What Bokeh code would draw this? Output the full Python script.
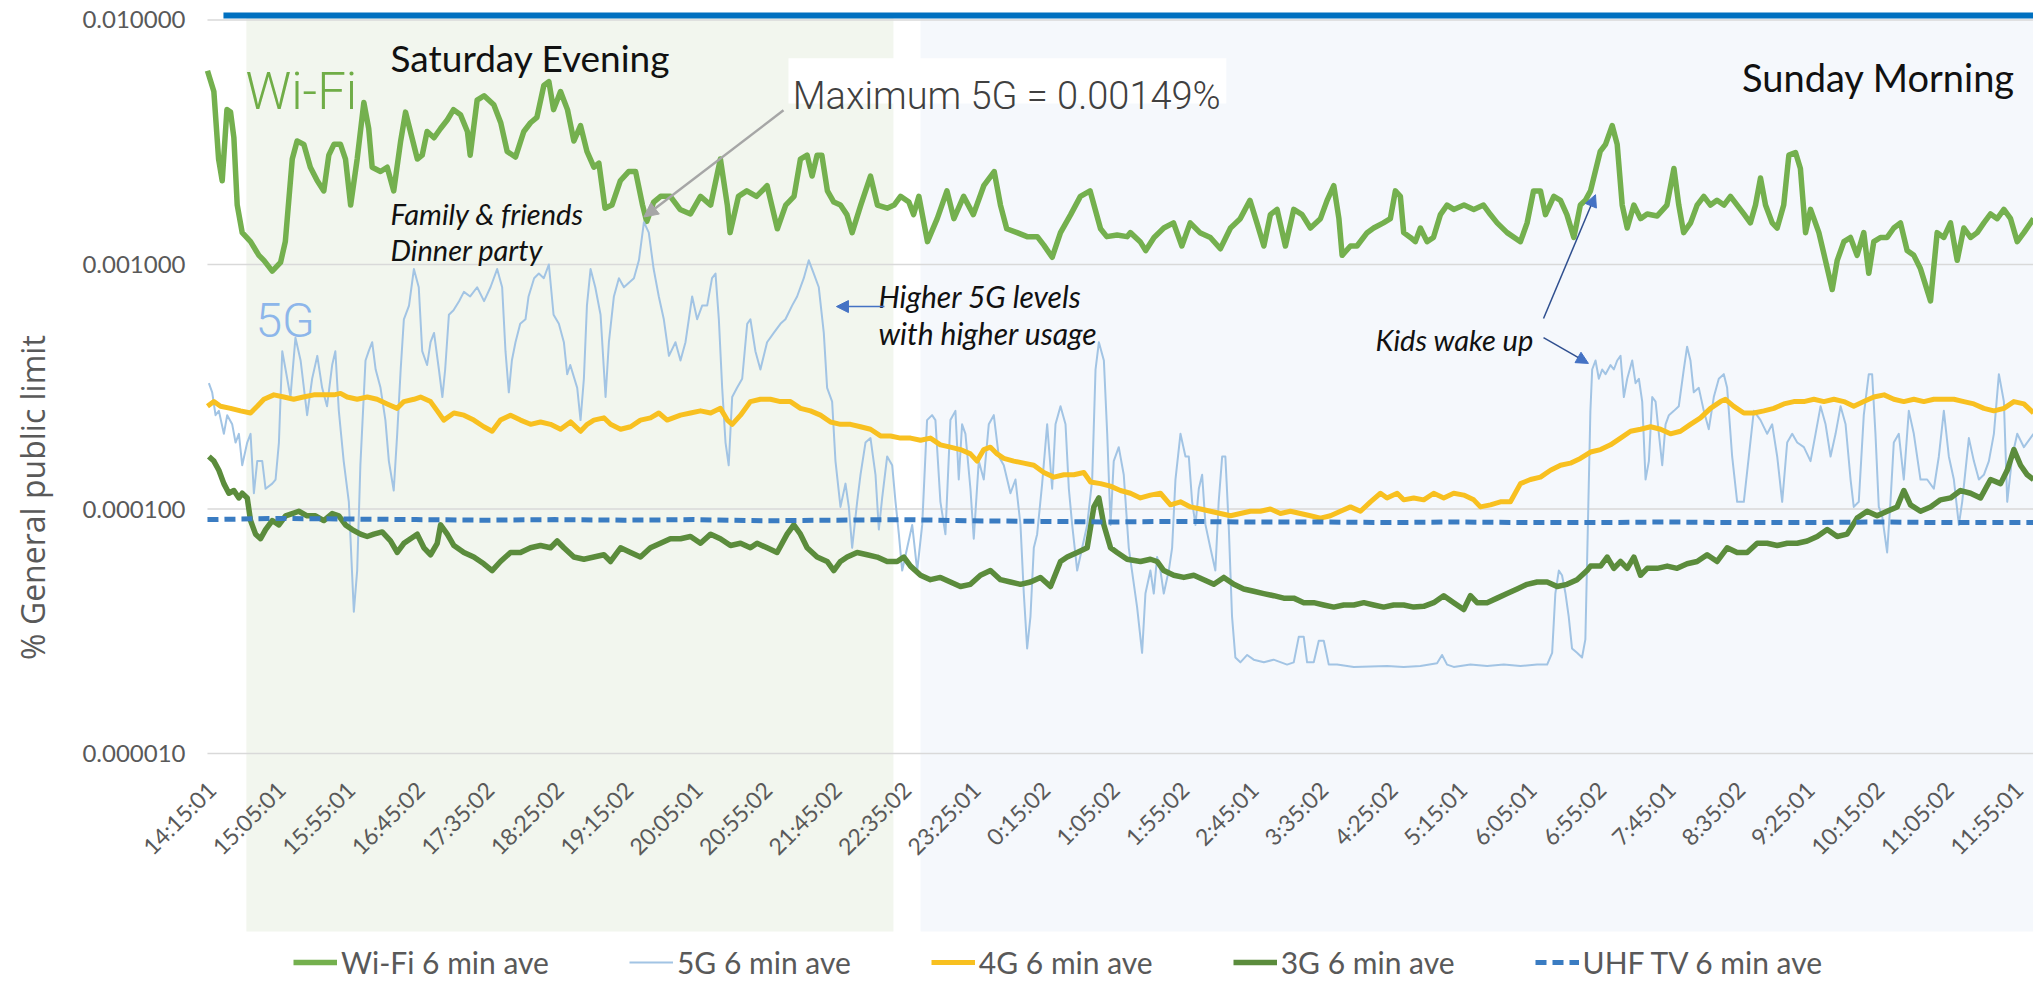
import math
from bokeh.plotting import figure
from bokeh.models import Range1d, Arrow, NormalHead, Legend, LegendItem
from bokeh.core.properties import value
from bokeh.embed import file_html
from bokeh.resources import INLINE

# ---------------- data (minutes after 14:15:01, % of general public limit) ----------------
time_labels = ["14:15:01", "15:05:01", "15:55:01", "16:45:02", "17:35:02", "18:25:02", "19:15:02",
               "20:05:01", "20:55:02", "21:45:02", "22:35:02", "23:25:01", "0:15:02", "1:05:02",
               "1:55:02", "2:45:01", "3:35:02", "4:25:02", "5:15:01", "6:05:01", "6:55:02",
               "7:45:01", "8:35:02", "9:25:01", "10:15:02", "11:05:02", "11:55:01"]
label_minutes = [0, 50, 100, 150, 200, 250, 300, 350, 400, 450, 500, 550, 600, 650, 700, 750,
                 800, 850, 900, 950, 1000, 1050, 1100, 1150, 1200, 1250, 1300]
y_ticks = [1e-5, 1e-4, 1e-3, 1e-2]
y_tick_labels = ["0.000010", "0.000100", "0.001000", "0.010000"]

wifi_t = [0, 4.6, 8, 10.6, 14, 16.6, 19, 21.4, 25, 31, 37, 40.6, 46.6, 52.6, 56, 61, 64.5, 69.3, 74, 79,
          83.7, 87.3, 91, 95.7, 99.3, 103, 107.7, 112.5, 116, 118.5, 124.5, 129.3, 134, 139, 142.5, 146,
          151, 154.5, 158, 163, 167.7, 172.5, 177, 182, 187, 189, 194, 199, 206, 211, 215.6, 221.6, 227.6,
          232.4, 237, 242, 245.6, 249, 254, 259, 263.6, 268.4, 273, 278, 281.6, 286, 291, 297, 303, 308,
          313, 316, 321, 326, 333,
          340, 347.5, 354.7, 362, 369, 374, 376, 382, 388, 395, 402.6, 410, 416, 422, 426.6, 431.4, 435,
          438.6, 442, 446, 450.6, 455.4, 460, 463.8, 470, 477, 482, 489, 494, 498.6, 504.6, 508, 511.8,
          518, 525, 532, 537, 544, 551, 558.5, 566, 570.5, 575, 582.5, 589.7, 597, 601.7, 607.7, 613.7,
          621, 628, 635, 642.5, 647, 654.4, 661.6,
          664, 671, 675, 681, 688, 695, 701, 707, 714, 721.5, 728.7, 736, 743, 750, 755, 760, 764.7,
          769.5, 775.5, 781.5, 787.5, 793.5, 800.7, 805.5, 810.3, 814, 816.3, 822.3, 827, 834.3, 839,
          846, 851, 854.6, 858.2, 860.6, 865.4, 869, 872.6, 877.4, 882, 887, 891.8, 896.6, 904, 911,
          918, 923, 927.8, 935, 944.6, 949.4, 954, 959, 962.6, 968.6, 973.4, 978, 983, 987.7, 991.3, 995,
          1002, 1005.8, 1010.6, 1014.2, 1017.8, 1021.4, 1026.2, 1031, 1035.8, 1043, 1050, 1055, 1058.5,
          1062, 1067, 1071.7, 1076.5, 1081.3, 1086, 1091, 1095.7, 1100.5, 1105.3, 1110, 1113.7, 1117.3,
          1120.9, 1125.7, 1129.3, 1134, 1137.7, 1142.5, 1146, 1149.7, 1153.3, 1155.7, 1159.3, 1164,
          1168.9, 1172.5, 1177.3, 1182, 1186.8, 1191.6, 1195.2, 1198.8, 1203.6, 1208.4, 1213.2, 1218,
          1222.8, 1227.6, 1232.4, 1239.6, 1244.4, 1249.2, 1254, 1258.8, 1263.6, 1268.4, 1273.2, 1278,
          1282.8, 1287.6, 1292.4, 1297.2, 1302, 1306.8, 1313.7]
wifi_v = [0.0062, 0.0051, 0.0027, 0.0022, 0.0043, 0.0042, 0.0033, 0.00175, 0.00135, 0.00124, 0.00109,
          0.00104, 0.00094, 0.00102, 0.00124, 0.0027, 0.0032, 0.0031, 0.0025, 0.0022, 0.0020, 0.0028,
          0.0031, 0.0031, 0.0027, 0.00175, 0.0027, 0.0046, 0.0036, 0.0025, 0.0024, 0.0025, 0.0020, 0.0032,
          0.0042, 0.0035, 0.0027, 0.0028, 0.0035, 0.0033, 0.0036, 0.0039, 0.0043, 0.0041, 0.0035, 0.0028,
          0.0047, 0.0049, 0.0045, 0.0038, 0.0029, 0.00275, 0.0035, 0.0038, 0.0040, 0.0054, 0.0056, 0.0043,
          0.0051, 0.0043, 0.0032, 0.0037, 0.0029, 0.0025, 0.0026, 0.0017, 0.00175, 0.0022, 0.0024, 0.0024,
          0.00175, 0.0015, 0.0018, 0.0019, 0.0019,
          0.00168, 0.00161, 0.0019, 0.00175, 0.0027, 0.00175, 0.00135, 0.0019, 0.0020, 0.0019, 0.0021,
          0.0014, 0.00175, 0.0019, 0.0027, 0.0028, 0.0023, 0.0028, 0.0028, 0.0020, 0.0018, 0.00175, 0.0016,
          0.00135, 0.00175, 0.0023, 0.00175, 0.0017, 0.00175, 0.0019, 0.0018, 0.0016, 0.0019, 0.00124,
          0.00154, 0.0020, 0.00154, 0.0019, 0.0016, 0.0021, 0.0024, 0.00175, 0.0014, 0.00135, 0.0013,
          0.0013, 0.0012, 0.00107, 0.00135, 0.0016, 0.0019, 0.0020, 0.0014, 0.0013, 0.00132, 0.0013,
          0.00135, 0.00124, 0.00114, 0.00129, 0.00141, 0.00148, 0.00119, 0.00148, 0.00135, 0.00129,
          0.00116, 0.00141, 0.00154, 0.00183, 0.00148, 0.00119, 0.0016, 0.00168, 0.00119, 0.00168, 0.0016,
          0.00141, 0.00154, 0.00183, 0.0021, 0.00154, 0.00109, 0.00119, 0.00119, 0.00135, 0.00141,
          0.00148, 0.00154, 0.0020, 0.0019, 0.00135, 0.00129, 0.00124, 0.00141, 0.00124, 0.00129, 0.0016,
          0.00175, 0.00168, 0.00175, 0.00168, 0.00175, 0.0016, 0.00148, 0.00135, 0.00124, 0.00148, 0.0020,
          0.0020, 0.0016, 0.0019, 0.00183, 0.0016, 0.00129, 0.00175, 0.00183, 0.0020,
          0.0029, 0.0031, 0.0037, 0.0031, 0.00175, 0.00141, 0.00175, 0.00154, 0.00161, 0.00158, 0.00175,
          0.00247, 0.00175, 0.00135, 0.00148, 0.00175, 0.0019, 0.00175, 0.00183, 0.00175, 0.0019,
          0.00175, 0.00161, 0.00148, 0.00175, 0.00226, 0.00175, 0.00148, 0.00141, 0.00175, 0.0028,
          0.00287, 0.00247, 0.00135, 0.00168, 0.00154, 0.00135, 0.00104, 0.00079, 0.00104, 0.00124,
          0.00129, 0.00109, 0.00135, 0.00092, 0.00124, 0.00129, 0.00129, 0.00141, 0.00148, 0.00114,
          0.00109, 0.00096, 0.00071, 0.00135, 0.00129, 0.00148, 0.00104, 0.00141, 0.00129, 0.00135,
          0.00148, 0.00161, 0.00154, 0.00168, 0.00154, 0.00124, 0.00135, 0.00154]

g5_t = [1, 3.4, 5.8, 8.2, 11.8, 14.2, 17.8, 20.2, 22.6, 25, 28.6, 31, 33.4, 35.8, 39.4, 41.8, 46.6, 49,
        51.4, 53.8, 56.2, 59.7, 63.3, 67, 71.7, 75.3, 79, 82.5, 86, 89.7, 92, 94.5, 98, 101.7, 105.3,
        107.7, 110, 113.7, 116, 118.5, 121, 124.5, 128, 130.5, 134, 136.5, 139, 141.3, 145, 148.5, 152,
        154.5, 158, 160.5, 163, 166.5, 169, 171, 173.7, 177, 181, 184.5, 189, 194, 199, 203.6, 208.4,
        212, 214.4, 216.8, 219, 221.6, 225, 228.8, 231, 235, 238.4, 242, 245.6, 249, 252.8, 256.4, 258.8,
        261, 266, 268.4, 270.8, 273, 275.6, 279, 282.8, 286.4, 288.8, 292.4, 296, 299.6, 303, 306.8,
        310.4, 314, 317.5, 321, 324.7, 328.3, 332,
        336.7, 340.3, 343.9, 348.7, 352.3, 355.9, 359.5, 363, 365.5, 367.9, 370.3, 372.7, 375, 377.5,
        381, 384.7, 388.3, 390.6, 394.2, 397.8, 402.6, 407.4, 412.2, 415.8, 420.6, 424.2, 429, 432.6,
        436.2, 439.8, 443.4, 445.8, 449.4, 451.8, 455.4, 459, 461.4, 463.8, 467.4, 469.8, 473.4, 477,
        480.6, 483, 485.4, 489, 492.6, 495, 497.4, 499.8, 503.4, 507, 510.6, 514.2, 517.7, 521.3, 523.7,
        527.3, 530.9, 534.5, 538.1, 540.5, 542.9, 545.3, 548.9, 551.3, 554.9, 558.5, 562.1, 565.7,
        569.3, 572.9, 577.7, 581.3, 584.9, 587.3, 589.7, 592.1, 594.5, 596.9, 600.5, 604.1, 607.7,
        610.1, 613.7, 617.3, 619.7, 622.1, 625.7, 629.3, 632.9, 636.5, 638.9, 641.3, 644.9, 647.3,
        649.7, 652, 655.6, 659.2, 662.8,
        668.8, 672.4, 674.8, 678.4, 680.8, 683.2, 685.6, 688, 691.6, 694, 696.4, 700, 703.6, 706, 708.4,
        710.8, 713.2, 715.6, 718, 721.5, 725.1, 727.5, 730, 732.3, 734.7, 737.1, 739.5, 743.1, 748,
        752.7, 760, 767, 776.7, 781.5, 785.1, 788.7, 791.1, 795.9, 799.5, 803.1, 806.7, 812.7, 824.7,
        848.6, 860.6, 872.6, 884.6, 888.2, 891.8, 896.6, 908.6, 920.6, 932.6, 944.6, 956.6, 963.8, 967.4,
        969.7, 972.2, 974.5, 977, 979.3, 981.7, 985.3, 988.9, 991.3, 993, 994.9,
        996.2, 998.6, 1001, 1003.4, 1005.8, 1009.4, 1011.8, 1014.2, 1016.6, 1019, 1021.4, 1025, 1027.4,
        1029.8, 1032.2, 1034.6, 1037, 1039.4, 1041.8, 1044.2, 1046.6, 1049, 1051.4, 1055, 1058.5,
        1062.1, 1064.5, 1066.9, 1069.3, 1072.9, 1076.5, 1080.1, 1083.7, 1087.3, 1090.9, 1093.3, 1096.9,
        1100.5, 1105.3, 1108.9, 1112.5, 1117.3, 1122.1, 1125.7, 1129.3, 1132.9, 1136.5, 1140.1, 1143.7,
        1148.5, 1153.3, 1156.9, 1160.5, 1164.1, 1167.7, 1171.3, 1174.9, 1178.5, 1182.1, 1184.4, 1188,
        1191.6, 1195.2, 1197.6, 1200, 1202.4, 1204.8, 1208.4, 1210.8, 1213.2, 1216.8, 1220.4, 1224,
        1227.6, 1232.4, 1237.2, 1242, 1245.6, 1249.2, 1252.8, 1256.4, 1260, 1262.4, 1267.2, 1270.8,
        1274.4, 1278, 1281.6, 1285.2, 1288.8, 1292.4, 1294.8, 1298.4, 1302, 1306.8, 1313.7]
g5_v = [0.000327, 0.0003, 0.000242, 0.000252, 0.000203, 0.000242, 0.000222, 0.000187, 0.000203,
        0.000151, 0.000187, 0.000203, 0.000116, 0.000157, 0.000157, 0.000121, 0.000127, 0.000132,
        0.000187, 0.000442, 0.000372, 0.000287, 0.000502, 0.000405, 0.000242, 0.000341, 0.000423,
        0.000313, 0.000263, 0.000388, 0.000442, 0.000252, 0.000157, 0.000107, 0.000038, 0.000056,
        0.000151, 0.000405, 0.000442, 0.000481, 0.000372, 0.000313, 0.000231, 0.000157, 0.000119,
        0.000203, 0.000372, 0.000597, 0.000679, 0.000958, 0.000807, 0.000442, 0.000388, 0.000481,
        0.000525, 0.000372, 0.000287, 0.000372, 0.000623, 0.00065, 0.000708, 0.000773, 0.00074,
        0.000807, 0.000708, 0.000807, 0.000958, 0.000807, 0.000442, 0.0003, 0.000405, 0.000481,
        0.000572, 0.000597, 0.00074, 0.000879, 0.000918, 0.000879, 0.001, 0.000623, 0.000572, 0.000481,
        0.000356, 0.000388, 0.000313, 0.000231, 0.000341, 0.000679, 0.000958, 0.000807, 0.000623,
        0.000287, 0.000481, 0.00074, 0.000879, 0.000807, 0.00084, 0.000879, 0.00104, 0.00149, 0.00135,
        0.000958, 0.00074, 0.000597, 0.000423,
        0.000481, 0.000405, 0.000481, 0.00074, 0.000597, 0.000679, 0.000679, 0.000879, 0.000918,
        0.000597, 0.000313, 0.000187, 0.000151, 0.000287, 0.000313, 0.000341, 0.000572, 0.000597,
        0.000442, 0.000372, 0.000481, 0.000525, 0.000572, 0.000597, 0.000679, 0.00074, 0.000879,
        0.00104, 0.000918, 0.000807, 0.000525, 0.000313, 0.000275, 0.000157, 0.000102, 0.000127,
        0.000102, 0.0000694, 0.000107, 0.000138, 0.000187, 0.000195, 0.000138, 0.0000824, 0.000111,
        0.000164, 0.000151, 0.000107, 0.0000789, 0.000056, 0.0000694, 0.0000861, 0.000056, 0.0000861,
        0.000231, 0.000242, 0.000231, 0.000107, 0.0000789, 0.000231, 0.000252, 0.000132, 0.000222,
        0.000203, 0.000121, 0.0000756, 0.000157, 0.000132, 0.000222, 0.000242, 0.000164, 0.000151,
        0.000116, 0.000132, 0.0000861, 0.0000451, 0.0000269, 0.0000364, 0.0000694, 0.0000789,
        0.000127, 0.000222, 0.000121, 0.000222, 0.000263, 0.000222, 0.000121, 0.0000861, 0.000056,
        0.0000694, 0.0000861, 0.000132, 0.000372, 0.000481, 0.000405, 0.000203, 0.0000861, 0.000157,
        0.000179, 0.000138, 0.0000694,
        0.0000397, 0.0000258, 0.0000451, 0.000056, 0.0000451, 0.0000637, 0.000056, 0.0000451, 0.000056,
        0.0000694, 0.000132, 0.000203, 0.000164, 0.000164, 0.000107, 0.0000861, 0.000121, 0.000138,
        0.0000861, 0.0000694, 0.000056, 0.000107, 0.000164, 0.000164, 0.0000861, 0.0000364, 0.0000247,
        0.0000236, 0.0000253, 0.0000242, 0.0000236, 0.0000242, 0.0000231, 0.0000236, 0.00003, 0.00003,
        0.0000236, 0.0000236, 0.0000289, 0.0000289, 0.0000231, 0.0000231, 0.0000226, 0.0000228,
        0.0000226, 0.0000228, 0.0000234, 0.0000253, 0.0000231, 0.0000226, 0.0000231, 0.0000228,
        0.0000231, 0.0000228, 0.0000231, 0.0000231, 0.0000258, 0.0000451, 0.000056, 0.0000536,
        0.0000451, 0.0000364, 0.0000269, 0.0000258, 0.0000247, 0.0000293, 0.00008, 0.00025,
        0.000372, 0.000405, 0.000341, 0.000372, 0.000356, 0.000388, 0.000372, 0.000405, 0.000423,
        0.000287, 0.000341, 0.000405, 0.000327, 0.000341, 0.000275, 0.000132, 0.000157, 0.000287,
        0.000275, 0.000203, 0.000151, 0.000222, 0.000242, 0.000252, 0.000263, 0.000372, 0.000461,
        0.000405, 0.0003, 0.000313, 0.000252, 0.000212, 0.000287, 0.000341, 0.000356, 0.000313,
        0.000164, 0.000107, 0.000107, 0.000164, 0.000252, 0.000231, 0.000203, 0.000222, 0.000164,
        0.000107, 0.000187, 0.000203, 0.000187, 0.000179, 0.000157, 0.000203, 0.000263, 0.000222,
        0.000164, 0.000203, 0.000263, 0.000222, 0.000132, 0.000102, 0.000107, 0.000242, 0.000356,
        0.000356, 0.000203, 0.000102, 0.0000938, 0.0000664, 0.000107, 0.000187, 0.000203, 0.000132,
        0.000252, 0.000203, 0.000132, 0.000132, 0.000121, 0.000164, 0.000252, 0.000164, 0.000132,
        0.0000861, 0.000107, 0.000195, 0.000157, 0.000132, 0.000138, 0.000157, 0.000203, 0.000356,
        0.000275, 0.000107, 0.000164, 0.000203, 0.000179, 0.000203]

g4_t = [0, 4.6, 9.4, 16.6, 23.8, 31, 35.8, 40.6, 47.8, 55, 62, 69, 76.5, 83.7, 91, 95.7, 100.5, 107.7,
        115, 122, 129.3, 136.5, 141.3, 148.5, 153.3, 160.5, 165.3, 170, 177.3, 184.5, 191.6, 198.8,
        204.8, 210.8, 218, 225.2, 232.4, 239.6, 246.8, 254, 261.2, 268.4, 273.2, 278, 285.2, 290, 297.2,
        304.4, 311.5, 318.7, 324.7, 330.7,
        340.3, 347.5, 354.7, 362, 369, 374, 377.5, 383.5, 390.6, 397.8, 405, 412.2, 419.4, 426.6, 433.8,
        441, 448.2, 455.4, 462.6, 469.8, 477, 484.2, 491.4, 498.6, 505.8, 513, 520.1, 527.3, 534.5,
        541.7, 548.9, 553.7, 558.5, 563.3, 568.1, 572.9, 580.1, 587.3, 594.5, 601.7, 608.9, 616.1,
        623.3, 630.5, 635.3, 642.5, 649.6, 656.8, 664,
        671.2, 678.4, 685.6, 692.8, 700, 707.2, 714.4, 721.5, 728.7, 736, 743.1, 750.3, 757.5, 764.7,
        771.9, 779.1, 786.3, 793.5, 800.7, 807.9, 815.1, 822.3, 829.5, 836.7, 843.9, 848.6, 855.9,
        860.6, 867.8, 875, 882.2, 889.4, 896.6, 903.8, 911, 915.8, 923, 930.2, 937.4, 944.6, 951.8, 959,
        966.2, 973.4, 980.5, 987.7, 995,
        1002.2, 1009.4, 1016.6, 1023.8, 1031, 1038.2, 1045.4, 1052.5, 1059.7, 1066.9, 1074.1, 1081.3,
        1088.5, 1092.1, 1098.1, 1105.3, 1112.5, 1119.7, 1126.9, 1134.1, 1141.3, 1148.5, 1155.7, 1162.9,
        1170.1, 1177.3, 1184.4, 1191.6, 1198.8, 1206.2, 1213.2, 1220.4, 1227.6, 1234.8, 1242, 1249.2,
        1256.4, 1263.6, 1270.8, 1278, 1285.2, 1292.4, 1299.6, 1306.8, 1313.7]
g4_v = [0.000263, 0.000275, 0.000263, 0.000258, 0.000252, 0.000247, 0.000263, 0.000281, 0.000293,
        0.000287, 0.000281, 0.000287, 0.000293, 0.000293, 0.000293, 0.000297, 0.000287, 0.000281,
        0.000287, 0.000281, 0.000269, 0.000258, 0.000275, 0.000281, 0.000287, 0.000275, 0.000252,
        0.000231, 0.000247, 0.000242, 0.000231, 0.000217, 0.000208, 0.000231, 0.000242, 0.000231,
        0.000222, 0.000227, 0.000222, 0.000212, 0.000227, 0.000208, 0.000222, 0.000231, 0.000236,
        0.000222, 0.000212, 0.000217, 0.000231, 0.000236, 0.000247, 0.000231,
        0.000242, 0.000247, 0.000252, 0.000247, 0.000258, 0.000231, 0.000222, 0.000242, 0.000275,
        0.000281, 0.000281, 0.000275, 0.000275, 0.000258, 0.000252, 0.000242, 0.000227, 0.000222,
        0.000222, 0.000217, 0.000212, 0.000199, 0.000199, 0.000195, 0.000195, 0.000191, 0.000195,
        0.000183, 0.000179, 0.000175, 0.000168, 0.000157, 0.000175, 0.000179, 0.000168, 0.000161,
        0.000157, 0.000154, 0.000151, 0.000141, 0.000135, 0.000138, 0.000138, 0.000141, 0.000129,
        0.000127, 0.000124, 0.000119, 0.000116,
        0.000111, 0.000114, 0.000116, 0.000104, 0.000107, 0.000102, 0.0001, 0.0000979, 0.0000958,
        0.0000938, 0.0000958, 0.0000979, 0.0000979, 0.0001, 0.0000958, 0.0000979, 0.0000958,
        0.0000938, 0.0000918, 0.0000938, 0.0000979, 0.000102, 0.0000979, 0.000107, 0.000116, 0.000111,
        0.000116, 0.000109, 0.000111, 0.000109, 0.000116, 0.000111, 0.000116, 0.000114, 0.000109,
        0.000102, 0.000104, 0.000107, 0.000107, 0.000127, 0.000132, 0.000135, 0.000144, 0.000151,
        0.000154, 0.000161, 0.000171,
        0.000175, 0.000183, 0.000195, 0.000208, 0.000212, 0.000217, 0.000212, 0.000203, 0.000208,
        0.000222, 0.000236, 0.000258, 0.000275, 0.000281, 0.000263, 0.000247, 0.000247, 0.000252,
        0.000258, 0.000269, 0.000275, 0.000275, 0.000281, 0.000275, 0.000281, 0.000275, 0.000263,
        0.000275, 0.000287, 0.000293, 0.000281, 0.000275, 0.000281, 0.000275, 0.000281, 0.000281,
        0.000281, 0.000275, 0.000269, 0.000258, 0.000252, 0.000258, 0.000275, 0.000269, 0.000247]

g3_t = [1, 4.6, 8.2, 11.8, 15.4, 19, 22.6, 25, 28.6, 31, 34.6, 38.2, 41.8, 46.6, 51.4, 56.2, 61, 65.7,
        71.7, 77.7, 83.7, 89.7, 94.5, 99.3, 104.1, 110.1, 114.9, 119.7, 125.7, 131.7, 136.5, 141.3,
        146.1, 150.9, 155.7, 160.5, 165.3, 167.7, 172.5, 177.3, 184.5, 191.6, 198.8, 204.8, 210.8, 218,
        225.2, 232.4, 239.6, 246.8, 251.6, 256.4, 263.6, 270.8, 278, 285.2, 290, 297.2, 304.4, 311.5,
        318.7, 325.9, 333,
        340.3, 347.5, 354.7, 362, 369, 376.3, 383.5, 390.6, 395.4, 402.6, 409.8, 417, 421.8, 426.6,
        431.4, 438.6, 445.8, 450.6, 455.4, 460.2, 467.4, 474.6, 481.8, 489, 496.2, 501, 505.8, 513,
        520.1, 527.3, 534.5, 541.7, 548.9, 556.1, 563.3, 570.5, 577.7, 584.9, 592.1, 599.3, 606.5,
        613.7, 618.5, 625.7, 632.9, 637.7, 641.3, 644.9, 649.7, 654.4, 661.6,
        671.2, 678.4, 683.2, 688, 695.2, 702.4, 709.6, 716.8, 724, 731.2, 738.4, 745.5, 752.7, 759.9,
        767.1, 774.3, 781.5, 788.7, 795.9, 803.1, 810.3, 817.5, 824.7, 831.9, 839.1, 846.2, 853.4,
        860.6, 867.8, 875, 882.2, 889.4, 896.6, 903.8, 908.6, 913.4, 920.6, 927.8, 935, 942.2, 949.4,
        956.6, 963.8, 971, 978.1, 985.3, 992.5, 995,
        1002.2, 1007, 1011.8, 1016.6, 1021.4, 1026.2, 1031, 1035.8, 1043, 1050.2, 1057.3, 1064.5,
        1071.7, 1078.9, 1086.1, 1093.3, 1100.5, 1107.7, 1114.9, 1122.1, 1129.3, 1136.5, 1143.7, 1150.9,
        1158.1, 1165.3, 1172.5, 1179.6, 1186.8, 1194, 1201.2, 1208.4, 1215.6, 1220.4, 1225.2, 1232.4,
        1239.6, 1246.8, 1254, 1261.2, 1268.4, 1275.6, 1282.8, 1290, 1294.8, 1299.6, 1304.4, 1309.2,
        1313.7]
g3_v = [0.000164, 0.000157, 0.000144, 0.000127, 0.000116, 0.000119, 0.000111, 0.000116, 0.000111,
        0.0000897, 0.0000789, 0.0000756, 0.0000824, 0.0000897, 0.0000861, 0.0000938, 0.0000958,
        0.0000979, 0.0000938, 0.0000938, 0.0000897, 0.0000958, 0.0000938, 0.0000861, 0.0000824,
        0.0000789, 0.0000772, 0.0000789, 0.0000806, 0.000074, 0.0000664, 0.0000724, 0.0000756,
        0.0000789, 0.0000694, 0.000065, 0.0000724, 0.0000861, 0.0000789, 0.0000709, 0.0000664,
        0.0000636, 0.0000597, 0.000056, 0.000061, 0.0000664, 0.0000664, 0.0000694, 0.0000709,
        0.0000694, 0.000074, 0.0000694, 0.0000636, 0.0000623, 0.0000636, 0.000065, 0.000061,
        0.0000694, 0.0000664, 0.0000636, 0.0000694, 0.0000724, 0.0000756,
        0.0000756, 0.0000772, 0.0000724, 0.0000789, 0.0000756, 0.0000709, 0.0000724, 0.0000694,
        0.0000724, 0.0000694, 0.0000664, 0.0000789, 0.0000861, 0.0000789, 0.0000694, 0.0000636,
        0.000061, 0.000056, 0.000061, 0.0000636, 0.0000664, 0.000065, 0.0000636, 0.000061, 0.000061,
        0.0000636, 0.0000584, 0.0000536, 0.0000514, 0.0000525, 0.0000503, 0.0000482, 0.0000492,
        0.0000536, 0.000056, 0.0000514, 0.0000503, 0.0000492, 0.0000503, 0.0000525, 0.0000482,
        0.000061, 0.0000636, 0.0000664, 0.0000694, 0.000102, 0.000111, 0.0000861, 0.0000694,
        0.0000664, 0.0000623,
        0.000061, 0.0000623, 0.000061, 0.000056, 0.0000536, 0.0000525, 0.0000536, 0.0000514,
        0.0000492, 0.0000525, 0.0000492, 0.0000471, 0.0000461, 0.0000451, 0.0000442, 0.0000432,
        0.0000432, 0.0000414, 0.0000414, 0.0000405, 0.0000397, 0.0000405, 0.0000405, 0.0000414,
        0.0000405, 0.0000397, 0.0000405, 0.0000405, 0.0000397, 0.00004, 0.0000414, 0.0000442,
        0.0000414, 0.0000388, 0.0000442, 0.0000414, 0.0000414, 0.0000432, 0.0000451, 0.0000471,
        0.0000492, 0.0000503, 0.0000503, 0.0000482, 0.0000492, 0.0000514, 0.000056, 0.0000584,
        0.0000584, 0.0000636, 0.0000572, 0.000061, 0.0000572, 0.0000636, 0.0000536, 0.0000572,
        0.0000572, 0.0000584, 0.0000572, 0.0000597, 0.000061, 0.000065, 0.000061, 0.0000694,
        0.0000664, 0.0000664, 0.0000724, 0.0000724, 0.0000709, 0.0000724, 0.0000724, 0.000074,
        0.0000772, 0.0000824, 0.0000772, 0.0000789, 0.0000918, 0.0000979, 0.0000938, 0.0000979,
        0.000102, 0.000119, 0.000104, 0.0000979, 0.000102, 0.000109, 0.000111, 0.000119, 0.000116,
        0.000111, 0.000132, 0.000127, 0.000144, 0.000175, 0.000151, 0.000138, 0.000132]

uhf_t = [0, 50, 100, 150, 200, 250, 300, 350, 400, 450, 500, 550, 600, 650, 700, 750, 800, 850, 900,
         950, 1000, 1050, 1100, 1150, 1200, 1250, 1300, 1313.7]
uhf_v = [0.0000905, 0.0000915, 0.000091, 0.0000905, 0.00009, 0.0000905, 0.00009, 0.0000905, 0.0000895,
         0.00009, 0.0000905, 0.0000895, 0.000089, 0.0000885, 0.000089, 0.0000885, 0.0000885, 0.000088,
         0.0000885, 0.000088, 0.000088, 0.0000885, 0.000088, 0.000088, 0.0000885, 0.000088, 0.000088,
         0.000088]

max_5g = 0.00149
sat_evening = (28, 493.5)      # minutes
sun_morning = (513, 1313.7)

# ---------------- layout constants ----------------
T_START = -148.9               # figure's left edge (room for the y labels)
T_END = 1313.7
Y_TOP = 10 ** -1.92025
Y_BOT = 10 ** -5.9284
BAND_TOP = 0.01043
BAND_BOTTOM = 1.87e-6
TICK_LABEL_Y = 7.4e-6
YLAB_T = -15.8
YTITLE_T = -125.9
YTITLE_V = 1.114e-4

p = figure(width=2033, height=980, output_backend="svg", toolbar_location=None,
           y_axis_type="log", x_range=Range1d(T_START, T_END), y_range=Range1d(Y_BOT, Y_TOP),
           min_border_left=0, min_border_right=0, min_border_top=0, min_border_bottom=0)
p.outline_line_color = None
p.background_fill_color = "white"
p.border_fill_color = "white"
p.xaxis.visible = False
p.yaxis.visible = False
p.xgrid.visible = False
p.ygrid.visible = False

# background period bands
p.quad(left=[sat_evening[0]], right=[sat_evening[1]], top=[BAND_TOP], bottom=[BAND_BOTTOM],
       fill_color="#F2F6EE", line_color=None, level="image")
p.quad(left=[sun_morning[0]], right=[sun_morning[1]], top=[BAND_TOP], bottom=[BAND_BOTTOM],
       fill_color="#F5F8FC", line_color=None, level="image")

# horizontal grid lines and y tick labels
p.multi_line(xs=[[0, T_END] for _ in y_ticks], ys=[[v, v] for v in y_ticks],
             line_color="#D9D9D9", line_width=1.5, level="underlay")
p.text(x=[YLAB_T] * len(y_ticks), y=y_ticks, text=y_tick_labels, text_align="right",
       text_baseline="middle", text_font=value("Lato"), text_font_size="24px", text_color="#595959")
p.text(x=[YTITLE_T], y=[YTITLE_V], text=["% General public limit"], angle=math.pi / 2,
       text_align="center", text_baseline="middle", text_font=value("Open Sans"),
       text_font_size="32px", text_color="#595959")

# top decorative rule
p.line(x=[11.5, T_END], y=[0.01043, 0.01043], line_color="#0070C0", line_width=6)

# series
r_wifi = p.line(wifi_t, wifi_v, line_color="#74B04E", line_width=5.5, line_join="round")
r_5g = p.line(g5_t, g5_v, line_color="#A2C4E4", line_width=2, line_join="round")
r_4g = p.line(g4_t, g4_v, line_color="#F8C020", line_width=5, line_join="round")
r_3g = p.line(g3_t, g3_v, line_color="#5B8C3C", line_width=5.5, line_join="round")
r_uhf = p.line(uhf_t, uhf_v, line_color="#3A7CC2", line_width=5, line_dash="11 6")

# x tick labels (rotated)
p.text(x=label_minutes, y=[TICK_LABEL_Y] * len(label_minutes), text=time_labels,
       angle=math.pi / 4, text_align="right", text_baseline="middle",
       text_font=value("Lato"), text_font_size="23px", text_color="#595959", x_offset=4)

# annotation texts
p.text(x=[131.7], y=[0.00703], text=["Saturday Evening"], text_font=value("Lato"),
       text_font_size="37px", text_color="#111111", text_baseline="alphabetic")
p.text(x=[1104], y=[0.00582], text=["Sunday Morning"], text_font=value("Lato"),
       text_font_size="38px", text_color="#111111", text_baseline="alphabetic")
p.text(x=[27.3], y=[0.0051], text=["Wi-Fi"], text_font=value("Roboto Light"),
       text_font_size="51px", text_color="#70AD47", text_baseline="alphabetic")
p.text(x=[34.5], y=[0.00059], text=["5G"], text_font=value("Roboto Light"),
       text_font_size="48px", text_color="#8DB6EA", text_baseline="alphabetic")
p.text(x=[131.7, 131.7], y=[0.00162, 0.00115], text=["Family & friends", "Dinner party"],
       text_font=value("Lato"), text_font_style="italic", text_font_size="29px",
       text_color="#111111", text_baseline="alphabetic")
p.text(x=[482.7, 482.7], y=[0.000746, 0.000527], text=["Higher 5G levels", "with higher usage"],
       text_font=value("Lato"), text_font_style="italic", text_font_size="30px",
       text_color="#111111", text_baseline="alphabetic")
p.text(x=[840.3], y=[0.000493], text=["Kids wake up"], text_font=value("Lato"),
       text_font_style="italic", text_font_size="29px", text_color="#111111",
       text_baseline="alphabetic")

# "Maximum 5G" call-out
p.quad(left=[418], right=[733], top=[0.00697], bottom=[0.00455], fill_color="white", line_color=None)
p.text(x=[421], y=[0.00491], text=["Maximum 5G = 0.00149%"], text_font=value("Roboto Light"),
       text_font_size="38px", text_color="#404040", text_baseline="alphabetic")
i_max = g5_v.index(max(g5_v))
p.add_layout(Arrow(end=NormalHead(size=14, fill_color="#A6A6A6", line_color="#A6A6A6"),
                   x_start=414.4, y_start=0.00427, x_end=g5_t[i_max], y_end=max_5g * 1.05,
                   line_color="#A6A6A6", line_width=2.5))
p.add_layout(Arrow(end=NormalHead(size=12, fill_color="#4472C4", line_color="#4472C4"),
                   x_start=487, y_start=0.000673, x_end=452.5, y_end=0.000673,
                   line_color="#4472C4", line_width=1.5))
p.add_layout(Arrow(end=NormalHead(size=12, fill_color="#4472C4", line_color="#4472C4"),
                   x_start=961.2, y_start=0.000601, x_end=998.6, y_end=0.00193,
                   line_color="#2F4F8F", line_width=1.5))
p.add_layout(Arrow(end=NormalHead(size=12, fill_color="#4472C4", line_color="#4472C4"),
                   x_start=961.2, y_start=0.000502, x_end=993.5, y_end=0.000394,
                   line_color="#2F4F8F", line_width=1.5))

# legend
legend = Legend(items=[LegendItem(label="Wi-Fi 6 min ave", renderers=[r_wifi]),
                       LegendItem(label="5G 6 min ave", renderers=[r_5g]),
                       LegendItem(label="4G 6 min ave", renderers=[r_4g]),
                       LegendItem(label="3G 6 min ave", renderers=[r_3g]),
                       LegendItem(label="UHF TV 6 min ave", renderers=[r_uhf])],
                orientation="horizontal", location=(293, 0),
                label_text_font="Lato", label_text_font_size="30px", label_text_color="#595959",
                glyph_width=44, glyph_height=24, label_standoff=4, spacing=80, padding=3, margin=0,
                background_fill_alpha=0, border_line_color=None)
p.add_layout(legend)

open("out.html", "w").write(file_html(p, INLINE))
